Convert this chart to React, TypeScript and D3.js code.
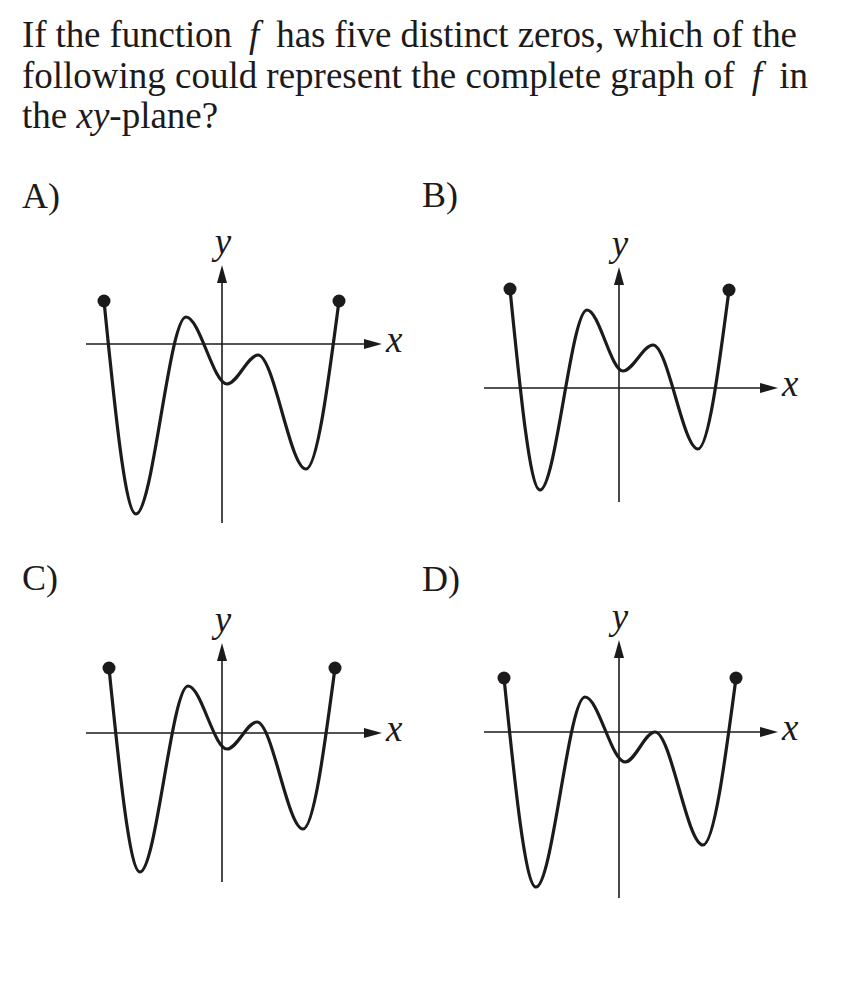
import React from 'react';
import * as d3 from 'd3';

// Question text (segments: [text, italic])
const questionLines: [string, boolean][][] = [
  [['If the function ', false], ['f', true], [' has five distinct zeros, which of the', false]],
  [['following could represent the complete graph of ', false], ['f', true], [' in', false]],
  [['the ', false], ['xy', true], ['-plane?', false]],
];
const lineEnds = [797, 808, 0]; // right edge of each text line (0 = natural width)

const choiceLabels = ['A)', 'B)', 'C)', 'D)'];

// Endpoints and turning points (1 unit = 10 px, origin at the axes' crossing)
const xsA = [-11.8, -8.6, -3.6, 0.5, 3.6, 8.4, 11.7];
const ysA = [4.3, -17.0, 2.7, -4.0, -1.1, -12.5, 4.3];

const xsB = [-10.9, -7.9, -3.2, 0.4, 3.4, 7.9, 11.0];
const ysB = [9.9, -10.2, 7.8, 1.7, 4.3, -6.1, 9.8];

const xsC = [-11.3, -8.2, -3.4, 0.5, 3.5, 8.1, 11.3];
const ysC = [6.5, -13.9, 4.7, -1.6, 1.1, -9.6, 6.5];

const xsD = [-11.5, -8.3, -3.4, 0.6, 3.6, 8.4, 11.7];
const ysD = [5.4, -15.5, 3.5, -3.0, 0, -11.3, 5.4];

const series = [
  { xs: xsA, ys: ysA },
  { xs: xsB, ys: ysB },
  { xs: xsC, ys: ysC },
  { xs: xsD, ys: ysD },
];

// layout: origin of each small graph, axis extents in units [xMin, xMax, yMin, yMax]
const panels = [
  { lx: 22, ly: 208, ox: 222, oy: 344, ext: [-13.6, 16.0, -17.9, 7.9] },
  { lx: 422, ly: 207, ox: 619, oy: 388, ext: [-13.5, 15.9, -11.4, 12.1] },
  { lx: 22, ly: 590, ox: 222, oy: 733, ext: [-13.6, 16.0, -14.9, 9.0] },
  { lx: 422, ly: 591, ox: 619, oy: 732, ext: [-13.5, 15.9, -16.6, 9.2] },
];

const ink = '#1c1a1a';
const serif = '"Liberation Serif", "DejaVu Serif", serif';

const Graph: React.FC<{ idx: number }> = ({ idx }) => {
  const p = panels[idx];
  const s = series[idx];
  const x = d3.scaleLinear().domain([-10, 10]).range([p.ox - 100, p.ox + 100]);
  const y = d3.scaleLinear().domain([-10, 10]).range([p.oy + 100, p.oy - 100]);
  const pts: [number, number][] = s.xs.map((v, i) => [v, s.ys[i]]);
  const line = d3.line<[number, number]>()
    .x(d => x(d[0]))
    .y(d => y(d[1]))
    .curve(d3.curveMonotoneX);

  const x0 = x(0), y0 = y(0);
  const xTip = x(p.ext[1]);
  const yTip = y(p.ext[3]);
  const head = 18, half = 5;
  const first = pts[0], last = pts[pts.length - 1];

  return (
    <g>
      <text x={p.lx} y={p.ly} fontSize={36} fontFamily={serif} fill={ink}>{choiceLabels[idx]}</text>
      {/* x axis */}
      <line x1={x(p.ext[0])} y1={y0} x2={xTip - 10} y2={y0} stroke={ink} strokeWidth={1.6} />
      <polygon points={`${xTip},${y0} ${xTip - head},${y0 - half} ${xTip - head},${y0 + half}`} fill={ink} />
      <text x={xTip + 4} y={y0 + 8} fontSize={37} fontStyle="italic" fontFamily={serif} fill={ink}>x</text>
      {/* y axis */}
      <line x1={x0} y1={y(p.ext[2])} x2={x0} y2={yTip + 10} stroke={ink} strokeWidth={1.6} />
      <polygon points={`${x0},${yTip} ${x0 - half},${yTip + head} ${x0 + half},${yTip + head}`} fill={ink} />
      <text x={x0 + 1} y={yTip - 11} fontSize={37} fontStyle="italic" fontFamily={serif} fill={ink} textAnchor="middle">y</text>
      {/* curve */}
      <path d={line(pts) || ''} fill="none" stroke={ink} strokeWidth={3.2} strokeLinejoin="round" />
      <circle cx={x(first[0])} cy={y(first[1])} r={6.5} fill={ink} />
      <circle cx={x(last[0])} cy={y(last[1])} r={6.5} fill={ink} />
    </g>
  );
};

const App: React.FC = () => {
  const baselines = [47, 88, 128];
  const left = 22;
  return (
    <svg width={842} height={1000} style={{ position: 'absolute', left: 0, top: 0, background: '#fff' }}>
      <rect width={842} height={1000} fill="#fff" />
      {questionLines.map((segs, i) => (
        <text key={i} x={left} y={baselines[i]} fontSize={37} fontFamily={serif} fill={ink}
          {...(lineEnds[i] ? { textLength: lineEnds[i] - left, lengthAdjust: 'spacing' } : {})}>
          {segs.map(([t, it], j) => (
            <tspan key={j} fontStyle={it ? 'italic' : 'normal'}
              dx={it && t === 'f' ? 8 : (j > 0 && segs[j - 1][0] === 'f' ? 8 : 0)}>{t}</tspan>
          ))}
        </text>
      ))}
      {panels.map((_, i) => <Graph key={i} idx={i} />)}
    </svg>
  );
};

export default App;
